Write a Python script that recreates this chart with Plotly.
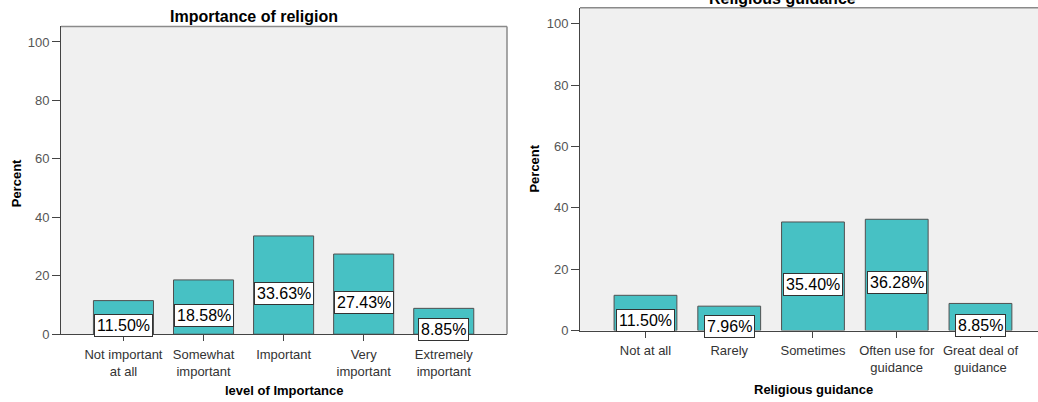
import plotly.graph_objects as go

W, H = 1038, 402

# ---- data ----
cats_left = ["Not important<br>at all", "Somewhat<br>important", "Important",
             "Very<br>important", "Extremely<br>important"]
vals_left = [11.50, 18.58, 33.63, 27.43, 8.85]
cats_right = ["Not at all", "Rarely", "Sometimes",
              "Often use for<br>guidance", "Great deal of<br>guidance"]
vals_right = [11.50, 7.96, 35.40, 36.28, 8.85]
y_ticks = [0, 20, 40, 60, 80, 100]

title_left = "Importance of religion"
title_right = "Religious guidance"
xtitle_left = "level of Importance"
xtitle_right = "Religious guidance"
ytitle = "Percent"

TEAL = "#47C1C4"
BAR_LINE = "#505050"
AXIS = "#444444"
FRAME = "#8a8a8a"
FONT = "Liberation Sans, Arial, sans-serif"


def px(x):
    return x / W


def py(y):
    return 1 - y / H


fig = go.Figure()
fig.add_trace(go.Bar(x=list(range(len(vals_left))), y=vals_left, width=0.75,
                     marker=dict(color=TEAL, line=dict(color=BAR_LINE, width=1)),
                     xaxis="x", yaxis="y", hoverinfo="skip"))
fig.add_trace(go.Bar(x=list(range(len(vals_right))), y=vals_right, width=0.75,
                     marker=dict(color=TEAL, line=dict(color=BAR_LINE, width=1)),
                     xaxis="x2", yaxis="y2", hoverinfo="skip"))

xcommon = dict(showline=True, linecolor=AXIS, linewidth=1, ticks="outside",
               ticklen=6, tickcolor=AXIS, showgrid=False, zeroline=False,
               ticklabelstandoff=2,
               tickfont=dict(family=FONT, size=13, color="#333333"),
               fixedrange=True)
ycommon = dict(showline=True, linecolor=AXIS, linewidth=1, ticks="outside",
               ticklen=8, tickcolor=AXIS, showgrid=False, zeroline=False,
               tickvals=y_ticks, tickfont=dict(family=FONT, size=13, color="#555555"),
               fixedrange=True)

fig.update_layout(
    width=W, height=H, margin=dict(l=0, r=0, t=0, b=0),
    paper_bgcolor="white", plot_bgcolor="#F0F0F0", showlegend=False,
    font=dict(family=FONT),
    xaxis=dict(domain=[px(61), px(507)], range=[-0.78, 4.79],
               tickvals=list(range(len(cats_left))), ticktext=cats_left,
               anchor="y", **xcommon),
    yaxis=dict(domain=[py(341), py(27)], range=[0, 105.3], anchor="x", **ycommon),
    xaxis2=dict(domain=[px(580), 1], range=[-0.782, 4.687],
                tickvals=list(range(len(cats_right))), ticktext=cats_right,
                anchor="y2", **xcommon),
    yaxis2=dict(domain=[py(337.3), py(8)], range=[0, 105.2], anchor="x2", **ycommon),
)

shapes = [
    dict(type="line", xref="x domain", yref="y domain", x0=0, x1=1, y0=1, y1=1,
         line=dict(color=FRAME, width=1.5)),
    dict(type="line", xref="x domain", yref="y domain", x0=1, x1=1, y0=0, y1=1,
         line=dict(color=FRAME, width=1.5)),
    dict(type="line", xref="x2 domain", yref="y2 domain", x0=0, x1=1, y0=1, y1=1,
         line=dict(color=FRAME, width=1.5)),
]
fig.update_layout(shapes=shapes)

ann = []
for xr, yr, vals in (("x", "y", vals_left), ("x2", "y2", vals_right)):
    for i, v in enumerate(vals):
        ann.append(dict(xref=xr, yref=yr, x=i, y=v / 2, yshift=-8,
                        text=f"{v:.2f}%", showarrow=False,
                        font=dict(family=FONT, size=16, color="black"),
                        bgcolor="white", bordercolor="#333333", borderwidth=1,
                        borderpad=2))

tfont = dict(family=FONT, size=16, color="black")
afont = dict(family=FONT, size=13, color="black")
ann += [
    dict(xref="paper", yref="paper", x=px(253.5), y=py(16.5), text=f"<b>{title_left}</b>",
         showarrow=False, font=tfont, xanchor="center", yanchor="middle"),
    dict(xref="paper", yref="paper", x=px(782.5), y=py(-2), text=f"<b>{title_right}</b>",
         showarrow=False, font=tfont, xanchor="center", yanchor="middle"),
    dict(xref="paper", yref="paper", x=px(284), y=py(398), text=f"<b>{xtitle_left}</b>",
         showarrow=False, font=afont, xanchor="center", yanchor="middle"),
    dict(xref="paper", yref="paper", x=px(813), y=py(397), text=f"<b>{xtitle_right}</b>",
         showarrow=False, font=afont, xanchor="center", yanchor="middle"),
    dict(xref="paper", yref="paper", x=px(16), y=py(187), text=f"<b>{ytitle}</b>",
         showarrow=False, font=afont, textangle=-90, xanchor="center", yanchor="middle"),
    dict(xref="paper", yref="paper", x=px(535), y=py(172), text=f"<b>{ytitle}</b>",
         showarrow=False, font=afont, textangle=-90, xanchor="center", yanchor="middle"),
]
fig.update_layout(annotations=ann)

fig.write_html("out.html", config={"displayModeBar": False})
